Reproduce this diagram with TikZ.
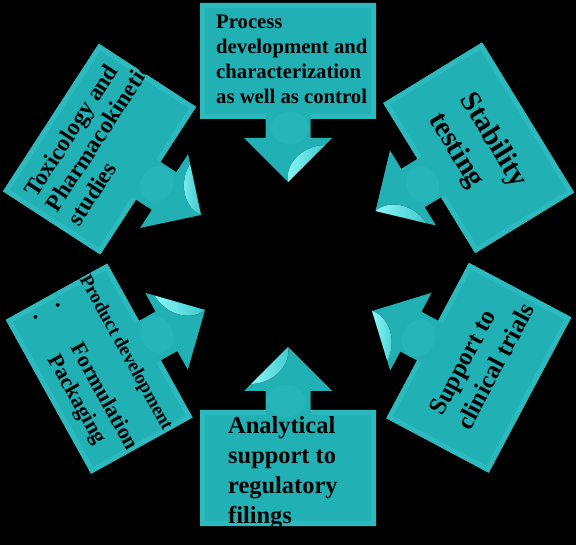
\documentclass[tikz,border=0pt]{standalone}
\usepackage{fontspec}
\setmainfont{Liberation Serif}
\definecolor{shapefill}{RGB}{33,177,181}
\definecolor{shapebevel}{RGB}{44,186,190}
\definecolor{shapeglow}{RGB}{48,192,196}
\definecolor{hilitebright}{RGB}{140,248,248}
\definecolor{hilitemid}{RGB}{60,200,204}
\tikzset{
  txt/.style={font=\bfseries, text=black, inner sep=0pt, anchor=north west, align=left},
  bevelband/.style={draw=shapebevel, line width=5pt, line cap=butt, line join=miter},
  callout/.pic={
    \fill[shapefill] (0,0) -- (44,44) -- (22.5,44) -- (22.5,63) -- (88,63) -- (88,179)
      -- (-88,179) -- (-88,63) -- (-22.5,63) -- (-22.5,44) -- (-44,44) -- cycle;
    \draw[bevelband] (-85.5,63) -- (-85.5,176.5) -- (85.5,176.5) -- (85.5,63);
    \draw[bevelband] (-85.5,65.5) -- (-22.5,65.5) (22.5,65.5) -- (85.5,65.5);
    \fill[shapeglow, opacity=0.35] (2,54) ellipse (19 and 16);
    \fill[left color=hilitebright, right color=hilitemid] (0,0) -- (37,37)
      .. controls (12,36) and (-3,16) .. (0,0);
  }
}
\begin{document}
\begin{tikzpicture}[x=1pt,y=1pt]
\fill[black] (0,0) rectangle (576,-545);
\useasboundingbox (0,0) rectangle (576,-545);

\pic[rotate=0] at (288,-182) {callout};
\pic[rotate=180] at (288,-347) {callout};
\pic[rotate=57] at (201,-215) {callout};
\pic[rotate=-58.5] at (375.5,-211) {callout};
\pic[rotate=-118] at (372,-311) {callout};
\pic[rotate=119] at (205,-310) {callout};

\node[txt, font=\bfseries\fontsize{20.7}{25}\selectfont] (process) at (216,-14.5)
  {Process\\development and\\characterization\\as well as control};
\node[txt, font=\bfseries\fontsize{24.4}{30}\selectfont] (analytical) at (228,-416)
  {Analytical\\support to\\regulatory\\filings};
\node[txt, rotate=57, font=\bfseries\fontsize{23.7}{26}\selectfont] (tox) at (22,-190)
  {Toxicology and\\Pharmacokinetic\\studies};
\node[txt, rotate=-58.5, font=\bfseries\fontsize{29}{37}\selectfont] (stab) at (477,-89)
  {Stability\\testing};
\node[txt, rotate=62, font=\bfseries\fontsize{25}{31}\selectfont] (support) at (428,-409)
  {Support to\\clinical trials};
\node[txt, rotate=-61, font=\bfseries\fontsize{22}{25.4}\selectfont] (product) at (91,-273)
  {{\fontsize{19}{22}\selectfont Product development}\\[15.6pt]
   \hspace*{9.5pt}\makebox[45.5pt][l]{\raisebox{5pt}{\fontsize{14}{14}\selectfont •}}Formulation\\
   \hspace*{9.5pt}\makebox[45.5pt][l]{\raisebox{5pt}{\fontsize{14}{14}\selectfont •}}Packaging};
\end{tikzpicture}
\end{document}
